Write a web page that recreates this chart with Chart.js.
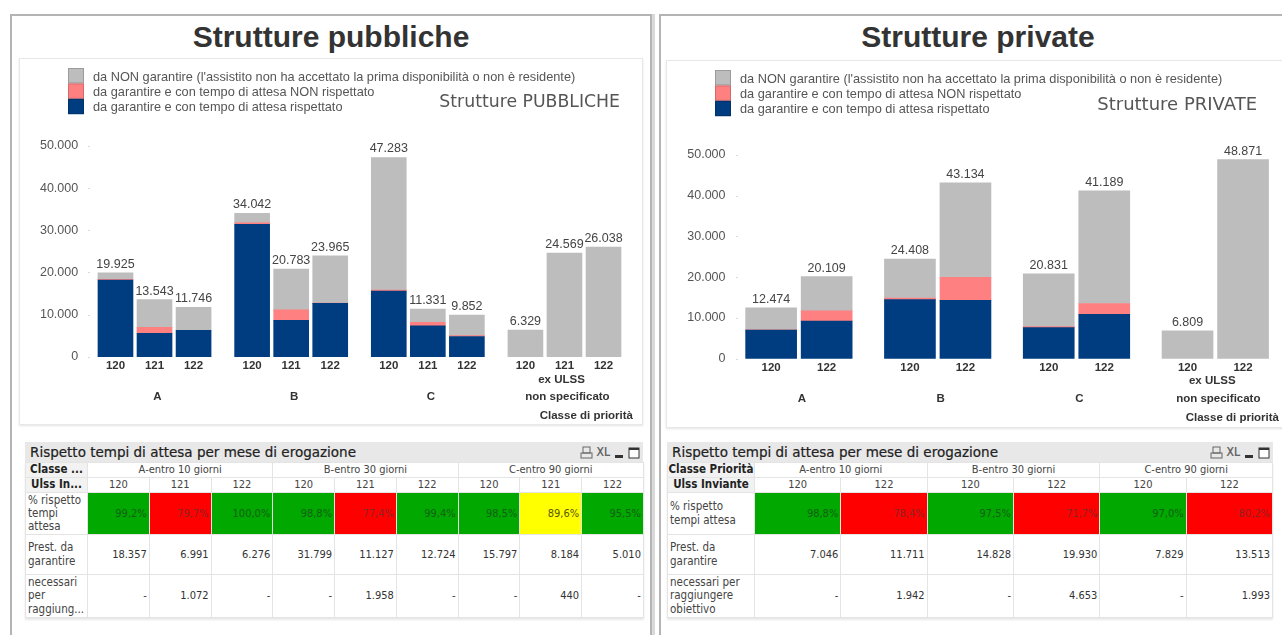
<!DOCTYPE html>
<html lang="it">
<head>
<meta charset="utf-8">
<title>Strutture pubbliche e private</title>
<script src="https://cdn.jsdelivr.net/npm/chart.js@4"></script>
<style>
html, body { margin: 0; padding: 0; width: 1282px; height: 635px; overflow: hidden; background: #fff; }
.panel { position: absolute; top: 14px; width: 638px; height: 640px; border: 2px solid #b4b4b4; box-shadow: 1px 1px 0 #ddd, 3px 0 0 #d8d8d8; background: #fff; }
.title { position: absolute; top: 19px; font: bold 30px "Liberation Sans", Arial, sans-serif; color: #333; text-align: center; line-height: 36px; }
.card { position: absolute; background: #fff; border: 1px solid #e8e8e8; box-shadow: 0 1px 2px #e4e4e4; }
canvas { position: absolute; }
.tbox { position: absolute; top: 442px; font-family: "DejaVu Sans Condensed", "Noto Sans", sans-serif; color: #333; }
.tbar { height: 20px; background: #e8e8e8; position: relative; font: 13.5px/20px "DejaVu Sans", sans-serif; color: #222; padding-left: 5px; white-space: nowrap; -webkit-text-stroke: 0.2px #222; }
.icons { position: absolute; right: 3px; top: 2px; height: 16px; display: flex; align-items: center; gap: 4px; }
.icons svg { display: block; }
table { border-collapse: collapse; table-layout: fixed; font-size: 11px; line-height: 13.3px; box-shadow: 0 2px 2px #e8e8e8; }
td { border: 1px solid #e4e4e4; padding: 0 2px; overflow: hidden; white-space: nowrap; text-align: right; color: #333; }
td.head { text-align: center; color: #444; }
td.rowhead { text-align: left; color: #444; font-size: 11.5px; }
td.dim { font-weight: bold; text-align: center; font-size: 11.5px; color: #222; background: #f2f2f2; padding: 0; }
tr.h1 td { height: 14px; }
tr.h2 td { height: 14px; }
tr.pct td { height: 41px; }
tr.pct td.ok { background: #00a800; color: #146014; }
tr.pct td.ko { background: #ff0000; color: #8e2222; }
tr.pct td.mid { background: #ffff00; color: #55550f; }
tr.pct td.rowhead { background: #fff; }
tr.prest td { height: 39px; }
tr.need td { height: 42px; }
</style>
</head>
<body>
<div class="panel" style="left:10px"></div>
<div class="panel" style="left:659px"></div>
<div class="title" style="left:10px;width:642px">Strutture pubbliche</div>
<div class="title" style="left:659px;width:638px">Strutture private</div>
<div class="card" style="left:19px;top:58px;width:622px;height:365px"></div>
<div class="card" style="left:666px;top:60px;width:630px;height:366px"></div>
<canvas id="chart-pub" width="620" height="364" style="left:20px;top:60px"></canvas>
<canvas id="chart-pri" width="625" height="367" style="left:667px;top:60px"></canvas>
<div class="tbox" id="table-pub" style="left:25px;width:618px"></div>
<div class="tbox" id="table-pri" style="left:667px;width:606px"></div>

<script>
// --- data ---
const seriesNames = [
    "da garantire e con tempo di attesa rispettato",
    "da garantire e con tempo di attesa NON rispettato",
    "da NON garantire (l'assistito non ha accettato la prima disponibilità o non è residente)"
];
const seriesColors = ['#003c80', '#ff8080', '#bdbdbd'];
const priorityClasses = ['A', 'B', 'C', 'ex ULSS'];

const pubUlss = ['120', '121', '122'];
const pubRespected = [18210, 5572, 6276, 31417, 8612, 12648, 15560, 7333, 4785, null, null, null];
const pubMissed = [147, 1419, null, 382, 2515, 76, 237, 851, 225, null, null, null];
const pubNotDue = [1568, 6552, 5470, 2243, 9656, 11241, 31486, 3147, 4842, 6329, 24569, 26038];
const pubTotals = [19925, 13543, 11746, 34042, 20783, 23965, 47283, 11331, 9852, 6329, 24569, 26038];

const priUlss = ['120', '122'];
const priRespected = [6961, 9181, 14457, 14290, 7594, 10837, null, null];
const priMissed = [85, 2530, 371, 5640, 235, 2676, null, null];
const priNotDue = [5428, 8398, 9580, 23204, 13002, 27676, 6809, 48871];
const priTotals = [12474, 20109, 24408, 43134, 20831, 41189, 6809, 48871];

const tableClasses = ['A-entro 10 giorni', 'B-entro 30 giorni', 'C-entro 90 giorni'];
const pubPct = ['99,2%', '79,7%', '100,0%', '98,8%', '77,4%', '99,4%', '98,5%', '89,6%', '95,5%'];
const pubPrest = ['18.357', '6.991', '6.276', '31.799', '11.127', '12.724', '15.797', '8.184', '5.010'];
const pubNeed = ['-', '1.072', '-', '-', '1.958', '-', '-', '440', '-'];
const priPct = ['98,8%', '78,4%', '97,5%', '71,7%', '97,0%', '80,2%'];
const priPrest = ['7.046', '11.711', '14.828', '19.930', '7.829', '13.513'];
const priNeed = ['-', '1.942', '-', '4.653', '-', '1.993'];

const FONT = '"Liberation Sans", Arial, sans-serif';
const fmt = n => String(n).replace(/\B(?=(\d{3})+$)/g, '.');

// bars sit on every second slot, with an extra empty slot between groups
function spaced(values, perGroup, blank) {
    const out = [blank];
    values.forEach((v, i) => {
        out.push(v, blank);
        if ((i + 1) % perGroup === 0 && i < values.length - 1) out.push(blank);
    });
    return out;
}
const slotOf = (i, perGroup) => 1 + i * 2 + Math.floor(i / perGroup);

const overlay = {
    id: 'overlay',
    afterDatasetsDraw(chart, args, o) {
        const { ctx, scales: { x, y } } = chart;
        ctx.save();

        // faint tick marks of the value axis
        ctx.fillStyle = '#dcdcdc';
        [0, 10000, 20000, 30000, 40000, 50000].forEach(v => {
            ctx.fillRect(o.markX, Math.round(y.getPixelForValue(v)), 2, 1);
        });

        // totals above the bars
        ctx.font = '12.5px ' + FONT;
        ctx.fillStyle = '#444';
        ctx.textAlign = 'center';
        ctx.textBaseline = 'alphabetic';
        o.totals.forEach((t, i) => {
            ctx.fillText(fmt(t), x.getPixelForValue(slotOf(i, o.perGroup)), y.getPixelForValue(t) - 5);
        });

        // group names under the ulss labels
        ctx.font = 'bold 11.5px ' + FONT;
        ctx.fillStyle = '#333';
        priorityClasses.forEach((name, g) => {
            const first = x.getPixelForValue(slotOf(g * o.perGroup, o.perGroup));
            const last = x.getPixelForValue(slotOf(g * o.perGroup + o.perGroup - 1, o.perGroup));
            const cx = (first + last) / 2 + 3;
            if (name === 'ex ULSS') {
                ctx.fillText(name, cx - 6, o.exY);
                ctx.fillText('non specificato', cx, o.groupY);
            } else {
                ctx.fillText(name, cx, o.groupY);
            }
        });
        ctx.textAlign = 'right';
        ctx.fillText('Classe di priorità', o.axisRight, o.axisY);

        // stacked legend, top series first
        ctx.textAlign = 'left';
        ctx.textBaseline = 'middle';
        ctx.font = '12.75px ' + FONT;
        chart.data.datasets.slice().reverse().forEach((ds, i) => {
            ctx.fillStyle = ds.backgroundColor;
            ctx.fillRect(o.legendX, o.legendY + i * 15.4, 16, 15.4);
            ctx.strokeStyle = 'rgba(0,0,0,0.18)';
            ctx.strokeRect(o.legendX + 0.5, o.legendY + i * 15.4 + 0.5, 15, 14.4);
            ctx.fillStyle = '#555';
            ctx.fillText(ds.label, o.legendX + 25, o.legendY + 9 + i * 15);
        });

        // inner title
        ctx.font = o.subFont + ' "DejaVu Sans", sans-serif';
        ctx.fillStyle = '#555';
        ctx.textAlign = 'right';
        ctx.fillText(o.subtitle, o.subRight, o.subY);
        ctx.restore();
    }
};

function barChart(id, cfg) {
    const perGroup = cfg.ulss.length;
    const ulssLabels = [];
    priorityClasses.forEach(() => ulssLabels.push(...cfg.ulss));
    const series = [cfg.respected, cfg.missed, cfg.notDue];
    return new Chart(document.getElementById(id), {
        type: 'bar',
        data: {
            labels: spaced(ulssLabels, perGroup, ''),
            datasets: series.map((vals, i) => ({
                label: seriesNames[i],
                data: spaced(vals, perGroup, null),
                backgroundColor: seriesColors[i],
                barThickness: cfg.barWidth,
                clip: false
            }))
        },
        options: {
            responsive: false,
            animation: false,
            layout: { padding: { top: cfg.padTop, right: cfg.padRight, left: 0, bottom: 0 } },
            scales: {
                x: {
                    stacked: true,
                    offset: true,
                    grid: { display: false, drawTicks: false },
                    border: { display: false },
                    afterFit: s => { s.height = cfg.xHeight; },
                    ticks: {
                        autoSkip: false, maxRotation: 0, padding: 2, color: '#333',
                        font: { family: FONT, size: 11.5, weight: 'bold' }
                    }
                },
                y: {
                    stacked: true,
                    min: 0,
                    max: 60000,
                    grid: { display: false, drawTicks: false },
                    border: { display: false },
                    afterFit: s => { s.width = cfg.yWidth; },
                    ticks: {
                        stepSize: 10000, padding: cfg.yPad, color: '#555',
                        font: { family: FONT, size: 12.5 },
                        // the top of the scale only leaves room, it has no label
                        callback: v => (v > 50000 ? '' : fmt(v))
                    }
                }
            },
            plugins: {
                legend: { display: false },
                tooltip: { enabled: false },
                overlay: Object.assign({ totals: cfg.totals, perGroup }, cfg.overlay)
            }
        },
        plugins: [overlay]
    });
}

barChart('chart-pub', {
    ulss: pubUlss, respected: pubRespected, missed: pubMissed, notDue: pubNotDue, totals: pubTotals,
    barWidth: 35, padTop: 43.9, padRight: 7.2, xHeight: 67.3, yWidth: 66.2, yPad: 8,
    overlay: {
        markX: 68, exY: 323, groupY: 340, axisRight: 613, axisY: 359,
        legendX: 48, legendY: 8, subtitle: 'Strutture PUBBLICHE', subFont: '17.3px', subRight: 600, subY: 43
    }
});
barChart('chart-pri', {
    ulss: priUlss, respected: priRespected, missed: priMissed, notDue: priNotDue, totals: priTotals,
    barWidth: 51, padTop: 54.3, padRight: 7.3, xHeight: 68.5, yWidth: 62.5, yPad: 4,
    overlay: {
        markX: 69, exY: 324, groupY: 342, axisRight: 612, axisY: 361,
        legendX: 48, legendY: 10, subtitle: 'Strutture PRIVATE', subFont: '18px', subRight: 590, subY: 45
    }
});

// --- tables under the charts ---
const icons = '<div class="icons">' +
    '<svg width="13" height="13" viewBox="0 0 13 13"><rect x="3" y="1" width="7" height="6" fill="none" stroke="#666"/><rect x="1" y="7" width="11" height="5" fill="none" stroke="#666"/></svg>' +
    '<span style="font:12px \'DejaVu Sans Condensed\',sans-serif;color:#666">XL</span>' +
    '<svg width="10" height="13" viewBox="0 0 10 13"><rect x="1" y="9" width="8" height="3" fill="#333"/></svg>' +
    '<svg width="12" height="13" viewBox="0 0 12 13"><rect x="1" y="2" width="10" height="10" fill="#fff" stroke="#333"/><rect x="1" y="2" width="10" height="2" fill="#333"/></svg>' +
    '</div>';

function pctClass(text) {
    const v = parseFloat(text.replace(',', '.'));
    if (v >= 90) return 'ok';
    return v >= 85 ? 'mid' : 'ko';
}
const br = s => s.split('\n').join('<br>');

function buildTable(id, cfg) {
    const n = cfg.pct.length;
    const perGroup = n / tableClasses.length;
    const colW = cfg.width / n;
    let h = '<div class="tbar">Rispetto tempi di attesa per mese di erogazione' + icons + '</div>';
    h += '<table style="width:' + (cfg.headW + cfg.width) + 'px"><colgroup><col style="width:' + cfg.headW + 'px">';
    for (let i = 0; i < n; i++) h += '<col style="width:' + colW + 'px">';
    h += '</colgroup>';
    h += '<tr class="h1"><td class="dim">' + cfg.dim1 + '</td>' +
        tableClasses.map(c => '<td class="head" colspan="' + perGroup + '">' + c + '</td>').join('') + '</tr>';
    h += '<tr class="h2"><td class="dim">' + cfg.dim2 + '</td>' +
        cfg.pct.map((_, i) => '<td class="head">' + cfg.ulss[i % perGroup] + '</td>').join('') + '</tr>';
    h += '<tr class="pct"><td class="rowhead">' + br(cfg.rows[0]) + '</td>' +
        cfg.pct.map(p => '<td class="' + pctClass(p) + '">' + p + '</td>').join('') + '</tr>';
    h += '<tr class="prest"><td class="rowhead">' + br(cfg.rows[1]) + '</td>' +
        cfg.prest.map(p => '<td>' + p + '</td>').join('') + '</tr>';
    h += '<tr class="need"><td class="rowhead">' + br(cfg.rows[2]) + '</td>' +
        cfg.need.map(p => '<td>' + p + '</td>').join('') + '</tr>';
    h += '</table>';
    document.getElementById(id).innerHTML = h;
}

buildTable('table-pub', {
    headW: 62, width: 556, dim1: 'Classe ...', dim2: 'Ulss In...', ulss: pubUlss,
    rows: ['% rispetto\ntempi\nattesa', 'Prest. da\ngarantire', 'necessari\nper\nraggiung...'],
    pct: pubPct, prest: pubPrest, need: pubNeed
});
buildTable('table-pri', {
    headW: 87, width: 518, dim1: 'Classe Priorità', dim2: 'Ulss Inviante', ulss: priUlss,
    rows: ['% rispetto\ntempi attesa', 'Prest. da\ngarantire', 'necessari per\nraggiungere\nobiettivo'],
    pct: priPct, prest: priPrest, need: priNeed
});
</script>
</body>
</html>
